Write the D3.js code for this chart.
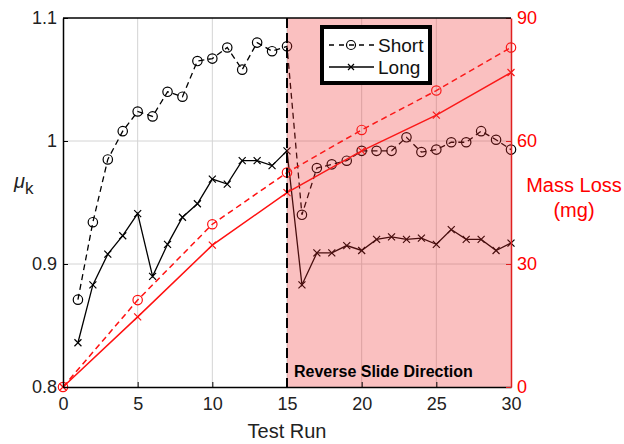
<!DOCTYPE html>
<html>
<head>
<meta charset="utf-8">
<script src="https://cdn.jsdelivr.net/npm/d3@7"></script>
<style>
  body { margin: 0; background: #fff; }
  text { font-family: "Liberation Sans", Arial, sans-serif; }
</style>
</head>
<body>
<div id="chart"></div>
<script>
// test runs
var runs = d3.range(1, 31)
// friction coefficient per run
var muShort = [0.871, 0.934, 0.985, 1.008, 1.024, 1.020, 1.040, 1.036, 1.065, 1.067,
               1.076, 1.058, 1.080, 1.073, 1.077, 0.940, 0.978, 0.981, 0.984, 0.992,
               0.992, 0.992, 1.003, 0.991, 0.993, 0.999, 0.999, 1.008, 1.001, 0.993]
var muLong = [0.836, 0.883, 0.908, 0.923, 0.941, 0.890, 0.916, 0.938, 0.949, 0.969,
              0.965, 0.984, 0.984, 0.980, 0.992, 0.883, 0.909, 0.909, 0.915, 0.911,
              0.920, 0.922, 0.920, 0.921, 0.916, 0.928, 0.920, 0.920, 0.911, 0.917]
// mass loss, every 5 runs
var massRuns = [0, 5, 10, 15, 20, 25, 30]
var massShort = [0, 21.2, 39.7, 52.3, 62.7, 72.3, 82.8]
var massLong = [0, 17.1, 34.6, 47.4, 57.6, 66.3, 76.7]

var xTicks = [0, 5, 10, 15, 20, 25, 30]
var yTicks = [0.8, 0.9, 1, 1.1]
var y2Ticks = [0, 30, 60, 90]

var W = 624, H = 444
var margin = {top: 18, right: 113, bottom: 57, left: 63}
var width = W - margin.left - margin.right,
    height = H - margin.top - margin.bottom

var svg = d3.select("#chart").append("svg")
    .attr("width", W).attr("height", H)
var g = svg.append("g")
    .attr("transform", "translate(" + margin.left + "," + margin.top + ")")

var x = d3.scaleLinear().domain([0, 30]).range([0, width])
var y = d3.scaleLinear().domain([0.8, 1.1]).range([height, 0])
var y2 = d3.scaleLinear().domain([0, 90]).range([height, 0])

// grid
g.append("g").selectAll("line").data(xTicks.slice(1, -1)).enter().append("line")
    .attr("x1", d => x(d)).attr("x2", d => x(d))
    .attr("y1", 0).attr("y2", height)
    .attr("stroke", "#d4d4d4").attr("stroke-width", 1)
g.append("g").selectAll("line").data(yTicks.slice(1, -1)).enter().append("line")
    .attr("x1", 0).attr("x2", width)
    .attr("y1", d => y(d)).attr("y2", d => y(d))
    .attr("stroke", "#d4d4d4").attr("stroke-width", 1)

function drawSeries(xs, ys, sx, sy, color, dash, marker, lw) {
  var line = d3.line().x((d, i) => sx(xs[i])).y(d => sy(d))
  g.append("path").datum(ys)
    .attr("d", line)
    .attr("fill", "none")
    .attr("stroke", color)
    .attr("stroke-width", lw)
    .attr("stroke-dasharray", dash)
  var m = g.append("g")
  if (marker === "o") {
    m.selectAll("circle").data(ys).enter().append("circle")
      .attr("cx", (d, i) => sx(xs[i])).attr("cy", d => sy(d))
      .attr("r", 4.7).attr("fill", "none")
      .attr("stroke", color).attr("stroke-width", 1.2)
  } else {
    var s = 3.5
    m.selectAll("path").data(ys).enter().append("path")
      .attr("d", (d, i) => {
        var cx = sx(xs[i]), cy = sy(d)
        return "M" + (cx - s) + "," + (cy - s) + "L" + (cx + s) + "," + (cy + s) +
               "M" + (cx - s) + "," + (cy + s) + "L" + (cx + s) + "," + (cy - s)
      })
      .attr("stroke", color).attr("stroke-width", 1.2)
  }
}

drawSeries(runs, muShort, x, y, "#000", "6,4", "o", 1.3)
drawSeries(runs, muLong, x, y, "#000", null, "x", 1.3)
drawSeries(massRuns, massShort, x, y2, "#ff1010", "6,4", "o", 1.5)
drawSeries(massRuns, massLong, x, y2, "#ff1010", null, "x", 1.5)

// shaded reverse region on top
g.append("rect")
    .attr("x", x(15)).attr("y", 0)
    .attr("width", x(30) - x(15)).attr("height", height)
    .attr("fill", "#f03030").attr("fill-opacity", 0.3)

g.append("line")
    .attr("x1", x(15)).attr("x2", x(15)).attr("y1", 0).attr("y2", height)
    .attr("stroke", "#000").attr("stroke-width", 2)
    .attr("stroke-dasharray", "10,5")

g.append("text")
    .attr("x", x(15) + 7).attr("y", height - 10)
    .attr("font-size", 16).attr("font-weight", "bold")
    .text("Reverse Slide Direction")

// axes
var xAxis = g.append("g").attr("transform", "translate(0," + height + ")")
    .call(d3.axisBottom(x).tickValues(xTicks).tickSizeInner(-5).tickSizeOuter(0).tickPadding(10))
var yAxis = g.append("g")
    .call(d3.axisLeft(y).tickValues(yTicks).tickFormat(d3.format("")).tickSizeInner(-5).tickSizeOuter(0).tickPadding(6))
var y2Axis = g.append("g").attr("transform", "translate(" + width + ",0)")
    .call(d3.axisRight(y2).tickValues(y2Ticks).tickSizeInner(-5).tickSizeOuter(0).tickPadding(6))

;[xAxis, yAxis].forEach(a => {
  a.select(".domain").attr("stroke", "#000").attr("stroke-width", 1.5)
  a.selectAll(".tick line").attr("stroke", "#000")
  a.selectAll(".tick text").attr("fill", "#222").attr("font-size", 18)
    .attr("font-family", "'Liberation Sans', Arial, sans-serif")
})
y2Axis.select(".domain").attr("stroke", "#e02020").attr("stroke-width", 1.5)
y2Axis.selectAll(".tick line").attr("stroke", "#e02020")
y2Axis.selectAll(".tick text").attr("fill", "#ff0000").attr("font-size", 18)
    .attr("font-family", "'Liberation Sans', Arial, sans-serif")

// top border
g.append("line").attr("x1", 0).attr("x2", width).attr("y1", 0).attr("y2", 0)
    .attr("stroke", "#000").attr("stroke-width", 1.5)

// axis titles
svg.append("text")
    .attr("x", margin.left + width / 2).attr("y", 438)
    .attr("text-anchor", "middle").attr("font-size", 20).attr("fill", "#222")
    .text("Test Run")

var mu = svg.append("text").attr("x", 14).attr("y", 188).attr("font-size", 20).attr("fill", "#222")
mu.append("tspan").attr("font-style", "italic").text("\u03bc")
mu.append("tspan").attr("dy", 6).attr("font-size", 17).text("k")

svg.append("text").attr("x", 574).attr("y", 192)
    .attr("text-anchor", "middle").attr("font-size", 20).attr("fill", "#ff0000")
    .text("Mass Loss")
svg.append("text").attr("x", 574).attr("y", 217)
    .attr("text-anchor", "middle").attr("font-size", 20).attr("fill", "#ff0000")
    .text("(mg)")

// legend
var lg = svg.append("g").attr("transform", "translate(322,27)")
lg.append("rect").attr("x", 0).attr("y", 0).attr("width", 108).attr("height", 56)
    .attr("fill", "#fff").attr("stroke", "#000").attr("stroke-width", 4)
lg.append("line").attr("x1", 7).attr("x2", 52).attr("y1", 18).attr("y2", 18)
    .attr("stroke", "#000").attr("stroke-width", 1.3).attr("stroke-dasharray", "5,5")
lg.append("circle").attr("cx", 29).attr("cy", 18).attr("r", 4.5)
    .attr("fill", "none").attr("stroke", "#000").attr("stroke-width", 1.2)
lg.append("line").attr("x1", 7).attr("x2", 52).attr("y1", 40).attr("y2", 40)
    .attr("stroke", "#000").attr("stroke-width", 1.3)
lg.append("path").attr("d", "M26,37L32,43M26,43L32,37")
    .attr("stroke", "#000").attr("stroke-width", 1.2)
lg.append("text").attr("x", 56).attr("y", 25).attr("font-size", 19).attr("fill", "#111").text("Short")
lg.append("text").attr("x", 56).attr("y", 47).attr("font-size", 19).attr("fill", "#111").text("Long")
</script>
</body>
</html>
